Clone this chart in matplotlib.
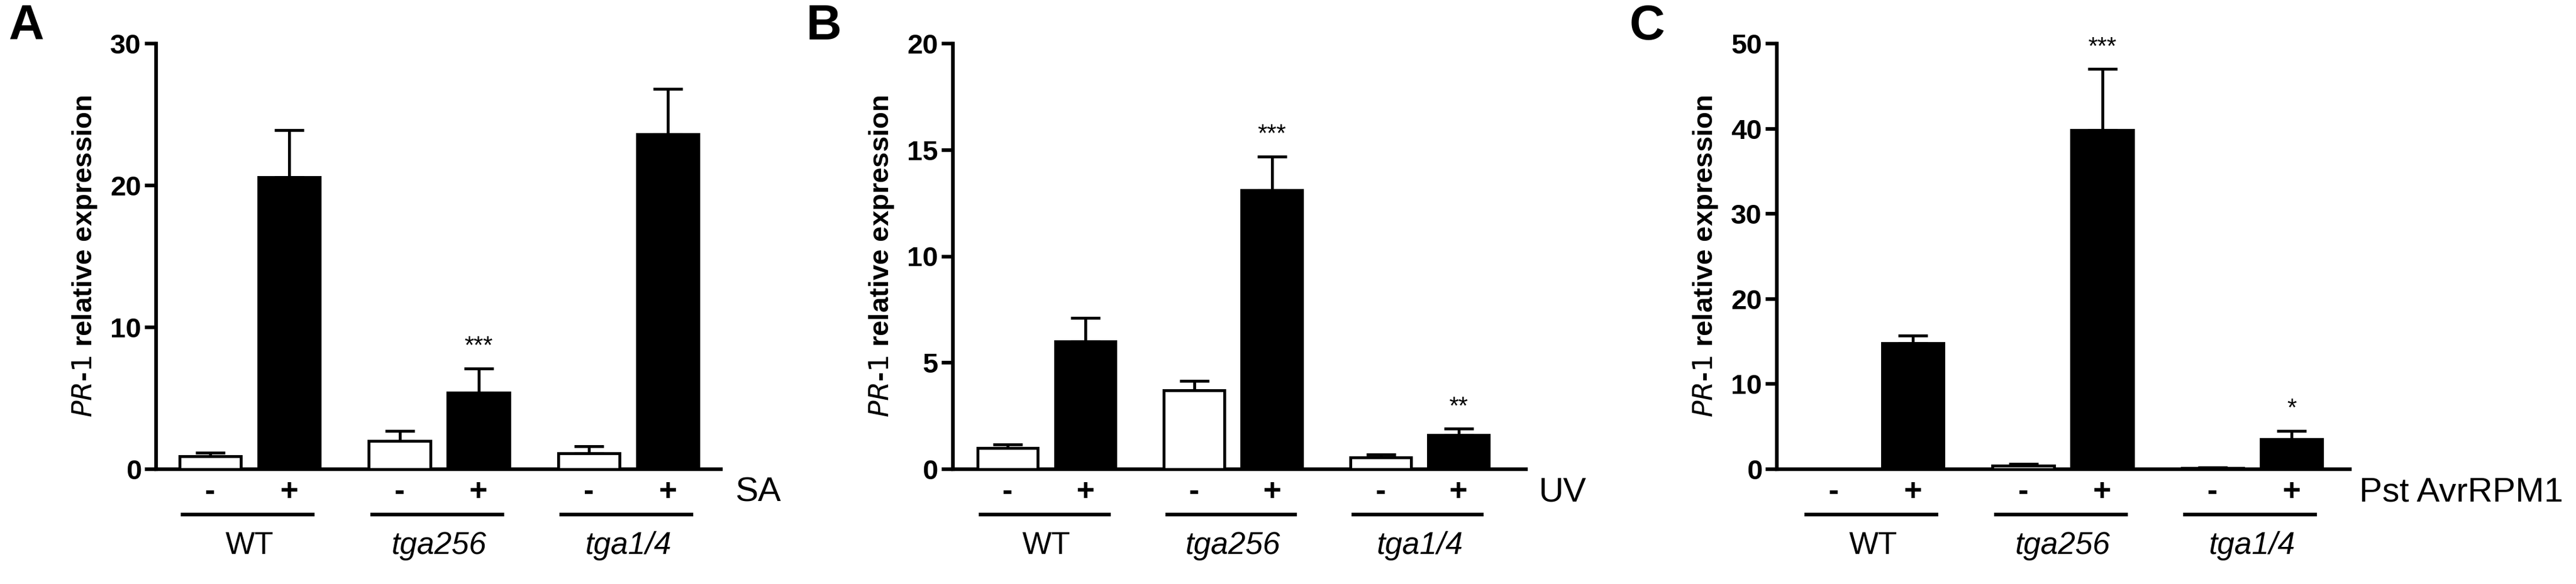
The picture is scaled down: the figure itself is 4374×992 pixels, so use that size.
import matplotlib
matplotlib.use('Agg')
from matplotlib import pyplot as plt
from matplotlib.transforms import blended_transform_factory
import numpy as np

plt.rcParams['font.family'] = ['Liberation Sans', 'DejaVu Sans']

groups = ['WT', 'tga256', 'tga1/4']
group_italic = [False, True, True]
signs = ['-', '+']

# values: order WT-, WT+, tga256-, tga256+, tga1/4-, tga1/4+
a_mean = [0.9, 20.6, 2.0, 5.4, 1.1, 23.6]
a_err = [0.25, 3.3, 0.7, 1.7, 0.5, 3.2]
a_stars = ['', '', '', '***', '', '']

b_mean = [1.0, 6.0, 3.7, 13.1, 0.55, 1.6]
b_err = [0.15, 1.1, 0.45, 1.6, 0.15, 0.3]
b_stars = ['', '', '', '***', '', '**']

c_mean = [0.0, 14.8, 0.4, 39.8, 0.15, 3.5]
c_err = [0.0, 0.9, 0.2, 7.2, 0.05, 1.0]
c_stars = ['', '', '', '***', '', '*']

x = np.array([0, 1, 2.4, 3.4, 4.8, 5.8])
fills = ['white', 'black'] * 3

W, H = 4374, 992
fig = plt.figure(figsize=(W / 100, H / 100), dpi=100)


def panel(left_px, right_px, first_px, unit_px, mean, err, stars, ymax, step,
          letter, treat, treat_dx):
    bottom = 1 - 797 / H
    top = 1 - 74 / H
    ax = fig.add_axes([left_px / W, bottom, (right_px - left_px) / W, top - bottom])
    ax.set_xlim((left_px - first_px) / unit_px, (right_px - first_px) / unit_px)
    ax.set_ylim(0, ymax)
    ax.bar(x, mean, width=0.78, color=fills, edgecolor='black', linewidth=3.5, zorder=3)
    for xi, m, e, s in zip(x, mean, err, stars):
        if e > 0:
            ax.errorbar(xi, m, yerr=[[0], [e]], fmt='none', ecolor='black',
                        elinewidth=3.5, capsize=18, capthick=3.5, zorder=2)
        if s:
            ax.annotate(s, (xi, m + e), xytext=(0, 12), textcoords='offset points',
                        ha='center', va='bottom', fontsize=30)
    for sp in ['top', 'right']:
        ax.spines[sp].set_visible(False)
    ax.spines['left'].set_linewidth(4.5)
    ax.spines['bottom'].set_linewidth(4.5)
    ax.set_xticks([])
    ax.set_yticks(np.arange(0, ymax + 0.1, step))
    ax.tick_params(axis='y', length=14, width=4.5, labelsize=34, pad=4)
    for t in ax.get_yticklabels():
        t.set_fontweight('bold')
        t.set_fontstretch('condensed')
    ax.set_ylabel(r'$\bf{\it{PR}}$-$\bf{\it{1}}$ relative expression', fontsize=34,
                  fontweight='bold', labelpad=14)
    tr = blended_transform_factory(ax.transData, ax.transAxes)
    for xi, sg in zip(x, signs * 3):
        ax.text(xi, -0.054, sg, transform=tr, ha='center', va='center',
                fontsize=38, fontweight='bold')
    for gi, g in enumerate(groups):
        x0 = x[2 * gi]
        ax.plot([x0 - 0.35, x0 + 1.3], [-0.107, -0.107], transform=tr, color='black',
                lw=4.5, clip_on=False)
        ax.text(x0 + 0.5, -0.18, g, transform=tr, ha='center', va='center', fontsize=38,
                style='italic' if group_italic[gi] else 'normal')
    ax.text(treat_dx, -0.054, treat, transform=tr, ha='left', va='center', fontsize=42)
    fig.text((left_px - 250) / W, 1 - 45 / H, letter, fontsize=60, fontweight='bold',
             ha='left', va='center')
    return ax


panel(265, 1224, 357, 134, a_mean, a_err, a_stars, 30, 10, 'A', 'SA', 6.65)
panel(1618, 2591, 1711, 132, b_mean, b_err, b_stars, 20, 5, 'B', 'UV', 6.83)
panel(3017, 3990, 3114, 134, c_mean, c_err, c_stars, 50, 10, 'C', 'Pst AvrRPM1', 6.66)

fig.savefig('out.png', dpi=100)
